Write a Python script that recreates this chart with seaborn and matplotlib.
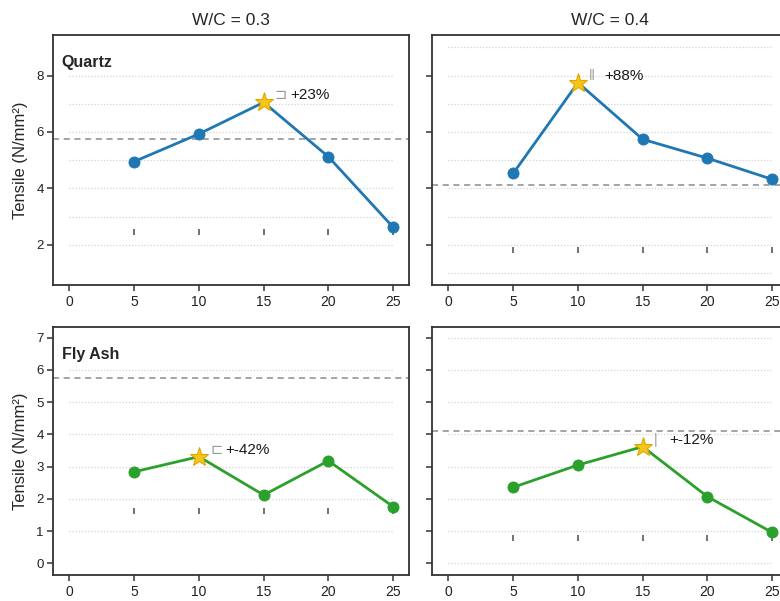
import matplotlib
matplotlib.use("Agg")
import matplotlib.pyplot as plt
import pandas as pd
import seaborn as sns

# Tensile strength (N/mm²) against replacement level (%) for two fillers at two W/C ratios
concentration = [5, 10, 15, 20, 25]
wc_ratios = [0.3, 0.4]
materials = ["Quartz", "Fly Ash"]
quartz_wc03 = [4.95, 5.93, 7.05, 5.12, 2.62]
quartz_wc04 = [4.53, 7.75, 5.74, 5.07, 4.32]
flyash_wc03 = [2.84, 3.31, 2.12, 3.18, 1.76]
flyash_wc04 = [2.36, 3.05, 3.62, 2.07, 0.96]
control_mix = [5.74, 4.12]          # reference mix for each W/C ratio
x_ticks = [0, 5, 10, 15, 20, 25]
row_ticks = [[2, 4, 6, 8], [0, 1, 2, 3, 4, 5, 6, 7]]
row_limits = [(0.57, 9.44), (-0.36, 7.34)]
guide_levels = [[[2, 3, 4, 5, 6, 7, 8], [1, 2, 3, 4, 5, 6, 7, 8, 9]],
                [[1, 2, 3, 4, 5, 6], [0, 1, 2, 3, 4, 5, 6, 7]]]
floor_marks = [[2.46, 1.81], [1.63, 0.78]]
peak_glyphs = [["\u2290", "\u2016"], ["\u228f", "|"]]

series = [[quartz_wc03, quartz_wc04], [flyash_wc03, flyash_wc04]]
colors = ["#1f77b4", "#2ca02c"]

sns.set_theme(style="ticks")
plt.rcParams["font.family"] = ["Liberation Sans", "DejaVu Sans"]

fig, axes = plt.subplots(2, 2, figsize=(7.8, 6.01), dpi=100)
W, H = 780.0, 601.0
col_left = [53.3, 432.3]
ax_w = 356.0
row_top = [35.0, 326.7]
row_h = [250.0, 248.3]

for r, material in enumerate(materials):
    for c, wc in enumerate(wc_ratios):
        ax = axes[r, c]
        ax.set_position([col_left[c] / W, 1 - (row_top[r] + row_h[r]) / H,
                         ax_w / W, row_h[r] / H])
        vals = series[r][c]
        df = pd.DataFrame({"conc": concentration, "tensile": vals})
        peak = max(range(len(vals)), key=lambda i: vals[i])
        others = [i for i in range(len(vals)) if i != peak]

        for lvl in guide_levels[r][c]:
            ax.plot([0, 25], [lvl, lvl], color="#d4d4d4", lw=0.9,
                    ls=(0, (1, 1.5)), zorder=0)
        ax.axhline(control_mix[c], color="#8c8c8c", lw=1.1,
                   ls=(0, (4, 3)), zorder=1)
        ax.scatter(concentration, [floor_marks[r][c]] * len(concentration),
                   marker="|", s=22, color="#666666", linewidths=1.3, zorder=1)

        sns.lineplot(data=df, x="conc", y="tensile", ax=ax, color=colors[r],
                     lw=2.0, marker="o", markersize=8, markeredgewidth=0.6,
                     markeredgecolor=colors[r], markevery=others, zorder=3)
        ax.plot(concentration[peak], vals[peak], marker="*", markersize=14,
                color="#f5c518", markeredgecolor="#e3a600",
                markeredgewidth=0.8, zorder=4)

        pct = (vals[peak] / control_mix[c] - 1) * 100
        ax.annotate(peak_glyphs[r][c], (concentration[peak], vals[peak]),
                    xytext=(8, 5), textcoords="offset points", va="center",
                    ha="left", fontsize=10.5, color="#999999")
        ax.annotate(f"+{pct:.0f}%", (concentration[peak], vals[peak]),
                    xytext=(19, 5), textcoords="offset points", va="center",
                    ha="left", fontsize=11, color="#1a1a1a")

        ax.set_xlim(-1.25, 26.25)
        ax.set_ylim(*row_limits[r])
        ax.set_xticks(x_ticks)
        ax.set_yticks(row_ticks[r])
        ax.set_xlabel("")
        if c == 0:
            ax.set_ylabel("Tensile (N/mm\u00b2)", fontsize=12, labelpad=6)
            ax.text(0.024, 0.89, material, transform=ax.transAxes,
                    fontsize=11.5, fontweight="bold", va="center", ha="left")
        else:
            ax.set_ylabel("")
            ax.tick_params(axis="y", labelleft=False)
        if r == 0:
            ax.set_title(f"W/C = {wc}", fontsize=12.5, pad=7)
        ax.tick_params(axis="both", direction="out", length=4, width=1.1,
                       color="#333333", pad=3)
        ax.tick_params(axis="y", labelsize=9.5, labelcolor="#222222")
        ax.tick_params(axis="x", labelsize=10, labelcolor="#222222")
        for sp in ax.spines.values():
            sp.set_visible(True)
            sp.set_color("#333333")
            sp.set_linewidth(1.3)

fig.savefig("out.png", dpi=100)
